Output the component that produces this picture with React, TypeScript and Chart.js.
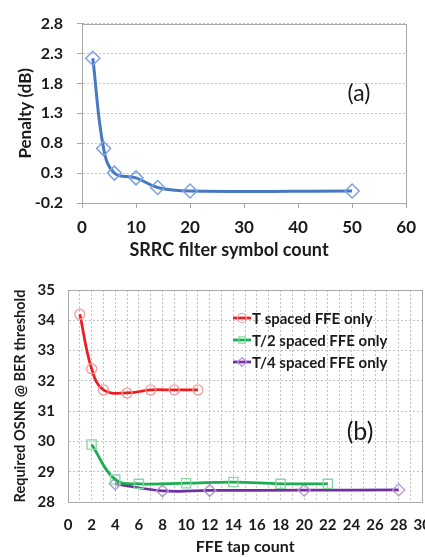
import React, { useEffect, useRef } from "react";
import { Chart, registerables } from "chart.js";

Chart.register(...registerables);

// ---- Data (a) ----
const symbolCounts = [2, 4, 6, 10, 14, 20, 50];
const penaltyDb = [2.22, 0.71, 0.3, 0.22, 0.06, 0.0, 0.0];

// ---- Data (b) ----
const seriesLabels = ["T spaced FFE only", "T/2 spaced FFE only", "T/4 spaced FFE only"];
const tTaps = [1, 2, 3, 5, 7, 9, 11];
const tOsnr = [34.2, 32.4, 31.7, 31.6, 31.7, 31.7, 31.7];
const t2Taps = [2, 4, 6, 10, 14, 18, 22];
const t2Osnr = [29.9, 28.74, 28.6, 28.62, 28.66, 28.6, 28.6];
const t4Taps = [4, 8, 12, 20, 28];
const t4Osnr = [28.6, 28.37, 28.38, 28.39, 28.4];

const FONT = "Lato, 'Open Sans', sans-serif";
const TEXT = "#1a1a1a";
const GRID = "#c4c4c4";
const FRAME = "#a8a8a8";

const framePlugin = {
  id: "frame",
  beforeDatasetsDraw(chart: any) {
    const { ctx, chartArea: a } = chart;
    ctx.save();
    ctx.setLineDash([]);
    ctx.strokeStyle = FRAME;
    ctx.lineWidth = 1;
    ctx.strokeRect(Math.round(a.left) + 0.5, Math.round(a.top) + 0.5, Math.round(a.right - a.left), Math.round(a.bottom - a.top));
    ctx.restore();
  },
};

function textPlugin(id: string, text: string, x: number, y: number, font: string) {
  return {
    id,
    afterDatasetsDraw(chart: any) {
      const { ctx } = chart;
      ctx.save();
      ctx.font = font;
      ctx.fillStyle = TEXT;
      ctx.textAlign = "center";
      ctx.textBaseline = "middle";
      ctx.fillText(text, x, y);
      ctx.restore();
    },
  };
}

function drawMarker(ctx: CanvasRenderingContext2D, style: string, x: number, y: number, r: number) {
  ctx.beginPath();
  if (style === "circle") {
    ctx.arc(x, y, r, 0, Math.PI * 2);
  } else if (style === "rect") {
    const h = r * Math.SQRT1_2;
    ctx.rect(x - h, y - h, 2 * h, 2 * h);
  } else {
    ctx.moveTo(x, y - r);
    ctx.lineTo(x + r, y);
    ctx.lineTo(x, y + r);
    ctx.lineTo(x - r, y);
    ctx.closePath();
  }
  ctx.stroke();
}

const legendPlugin = {
  id: "customLegend",
  afterDatasetsDraw(chart: any) {
    const { ctx, chartArea: a } = chart;
    const rows = [28, 50, 72];
    ctx.save();
    chart.data.datasets.forEach((ds: any, i: number) => {
      const y = a.top + rows[i];
      const x0 = a.left + 165;
      const x1 = a.left + 183;
      ctx.setLineDash([]);
      ctx.strokeStyle = ds.borderColor;
      ctx.lineWidth = 2.75;
      ctx.beginPath();
      ctx.moveTo(x0, y);
      ctx.lineTo(x1, y);
      ctx.stroke();
      ctx.strokeStyle = ds.pointBorderColor;
      ctx.lineWidth = 1.2;
      drawMarker(ctx, ds.pointStyle, (x0 + x1) / 2, y, 4.5);
      ctx.font = `bold 15px ${FONT}`;
      ctx.fillStyle = TEXT;
      ctx.textAlign = "left";
      ctx.textBaseline = "middle";
      ctx.fillText(ds.label, x1 + 1, y + 1);
    });
    ctx.restore();
  },
};

function ChartCanvas({ config, width, height }: { config: any; width: number; height: number }) {
  const ref = useRef<HTMLCanvasElement | null>(null);
  useEffect(() => {
    if (!ref.current) return;
    const chart = new Chart(ref.current, config);
    return () => chart.destroy();
  }, []);
  return <canvas ref={ref} width={width} height={height} style={{ width, height, display: "block" }} />;
}

const configA = {
  type: "line",
  data: {
    datasets: [
      {
        label: "Penalty",
        data: symbolCounts.map((x, i) => ({ x, y: penaltyDb[i] })),
        borderColor: "#4679c2",
        borderWidth: 3,
        tension: 0.4,
        pointStyle: "rectRot",
        pointRadius: 7,
        pointBorderWidth: 1.5,
        pointBorderColor: "#7ba2db",
        pointBackgroundColor: "rgba(255,255,255,0)",
      },
    ],
  },
  options: {
    animation: false,
    responsive: false,
    events: [],
    layout: { padding: { top: 15, right: 12, left: 0, bottom: 0 } },
    plugins: { legend: { display: false }, tooltip: { enabled: false } },
    scales: {
      x: {
        type: "linear",
        min: 0,
        max: 60,
        afterFit: (s: any) => {
          s.height = 65;
        },
        ticks: { stepSize: 10, padding: 9, maxRotation: 0, color: TEXT, font: { family: FONT, size: 17, weight: "bold" } },
        grid: { drawOnChartArea: false, drawTicks: true, tickLength: 5, color: FRAME },
        border: { color: FRAME },
      },
      y: {
        min: -0.2,
        max: 2.8,
        afterFit: (s: any) => {
          s.width = 82;
        },
        ticks: {
          stepSize: 0.5,
          padding: 14,
          color: TEXT,
          font: { family: FONT, size: 16, weight: "bold" },
          callback: (v: number) => v.toFixed(1),
        },
        grid: { color: GRID, tickLength: 5, tickColor: FRAME },
        border: { color: FRAME, dash: [2, 2] },
        title: {
          display: true,
          text: "Penalty (dB)",
          color: TEXT,
          font: { family: FONT, size: 17, weight: "bold" },
          padding: { top: 15, bottom: 0 },
        },
      },
    },
  },
  plugins: [
    framePlugin,
    textPlugin("xTitleA", "SRRC filter symbol count", 229, 250, `bold 18px ${FONT}`),
    textPlugin("panelA", "(a)", 359, 94, `23px ${FONT}`),
  ],
};

const configB = {
  type: "line",
  data: {
    datasets: [
      {
        label: seriesLabels[0],
        data: tTaps.map((x, i) => ({ x, y: tOsnr[i] })),
        borderColor: "#ee1d23",
        borderWidth: 2.75,
        tension: 0.4,
        pointStyle: "circle",
        pointRadius: 5,
        pointBorderWidth: 1.3,
        pointBorderColor: "#f39a9a",
        pointBackgroundColor: "rgba(255,255,255,0)",
      },
      {
        label: seriesLabels[1],
        data: t2Taps.map((x, i) => ({ x, y: t2Osnr[i] })),
        borderColor: "#1aae52",
        borderWidth: 2.75,
        tension: 0.4,
        pointStyle: "rect",
        pointRadius: 6.5,
        pointBorderWidth: 1.3,
        pointBorderColor: "#8ad6a4",
        pointBackgroundColor: "rgba(255,255,255,0)",
      },
      {
        label: seriesLabels[2],
        data: t4Taps.map((x, i) => ({ x, y: t4Osnr[i] })),
        borderColor: "#7030a0",
        borderWidth: 2.75,
        tension: 0.4,
        pointStyle: "rectRot",
        pointRadius: 6,
        pointBorderWidth: 1.3,
        pointBorderColor: "#b68fd6",
        pointBackgroundColor: "rgba(255,255,255,0)",
      },
    ],
  },
  options: {
    animation: false,
    responsive: false,
    events: [],
    layout: { padding: { top: 22, right: 21.5, left: 0, bottom: 0 } },
    plugins: { legend: { display: false }, tooltip: { enabled: false } },
    scales: {
      x: {
        type: "linear",
        min: 0,
        max: 30,
        afterFit: (s: any) => {
          s.height = 55;
        },
        ticks: {
          stepSize: 1,
          autoSkip: false,
          maxRotation: 0,
          padding: 14,
          color: TEXT,
          font: { family: FONT, size: 15, weight: "bold" },
          callback: (v: number) => (v % 2 === 0 ? String(v) : ""),
        },
        grid: { color: GRID, drawTicks: false },
        border: { color: FRAME, dash: [2, 2] },
        title: {
          display: true,
          text: "FFE tap count",
          color: TEXT,
          font: { family: FONT, size: 16, weight: "bold" },
          padding: { top: 0, bottom: 1 },
        },
      },
      y: {
        min: 28,
        max: 35,
        afterFit: (s: any) => {
          s.width = 68;
        },
        ticks: { stepSize: 1, padding: 13, color: TEXT, font: { family: FONT, size: 15, weight: "bold" } },
        grid: { color: GRID, drawTicks: false },
        border: { color: FRAME, dash: [2, 2] },
        title: {
          display: true,
          text: "Required OSNR @ BER threshold",
          color: TEXT,
          font: { family: FONT, size: 14.5, weight: "bold" },
          padding: { top: 11.5, bottom: 0 },
        },
      },
    },
  },
  plugins: [framePlugin, legendPlugin, textPlugin("panelB", "(b)", 360, 164, `25px ${FONT}`)],
};

export default function App() {
  return (
    <div
      style={{
        position: "fixed",
        left: 0,
        top: 0,
        width: 425,
        height: 557,
        overflow: "hidden",
        background: "#fff",
      }}
    >
      <div style={{ position: "absolute", left: 0, top: 0 }}>
        <ChartCanvas config={configA} width={425} height={268} />
      </div>
      <div style={{ position: "absolute", left: 0, top: 268 }}>
        <ChartCanvas config={configB} width={445} height={289} />
      </div>
    </div>
  );
}
